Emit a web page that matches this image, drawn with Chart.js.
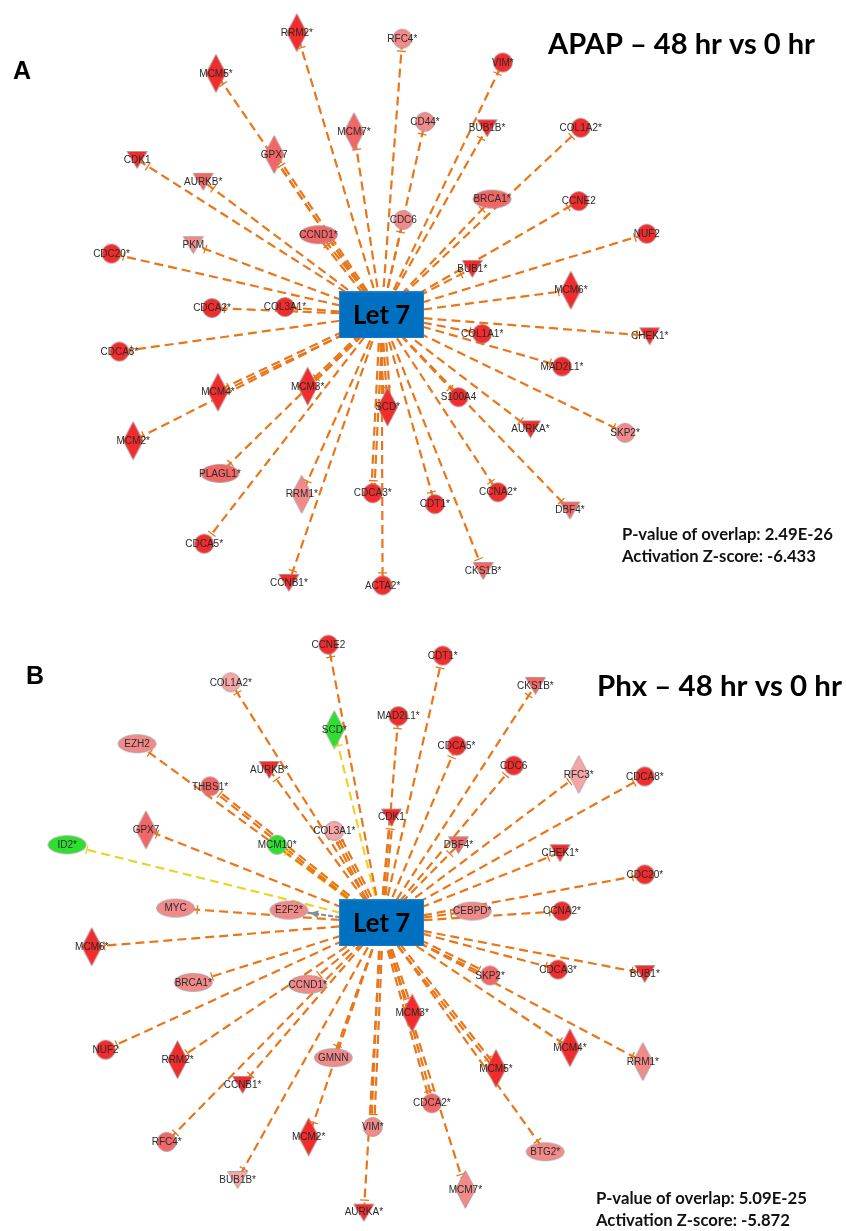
<!DOCTYPE html>
<html>
<head>
<meta charset="utf-8">
<script src="https://cdn.jsdelivr.net/npm/chart.js@4.4.1/dist/chart.umd.min.js"></script>
<style>
  html, body { margin: 0; padding: 0; background: #fff; }
  canvas { display: block; }
</style>
</head>
<body>
<canvas id="net" width="846" height="1231"></canvas>
<script>
// hub + panel text
const hubName = 'Let 7';
const panelLetters = ['A', 'B'];
const panelTitles = ['APAP \u2013 48 hr vs 0 hr', 'Phx \u2013 48 hr vs 0 hr'];
const pValues = ['2.49E-26', '5.09E-25'];
const zScores = ['-6.433', '-5.872'];
const hubA = [381, 312];
const hubB = [381, 926];

// node types: c = other, d = enzyme, t = kinase, e = transcription regulator
// level: 4 strong up ... 1 weak up, -1 down
const aGenes = ['RRM2*', 'RFC4*', 'MCM5*', 'VIM*', 'MCM7*', 'CD44*', 'BUB1B*', 'COL1A2*', 'GPX7', 'CDK1',
  'AURKB*', 'BRCA1*', 'CCNE2', 'CDC6', 'CCND1*', 'NUF2', 'PKM', 'CDC20*', 'BUB1*', 'MCM6*',
  'CDCA2*', 'COL3A1*', 'COL1A1*', 'CHEK1*', 'CDCA8*', 'MAD2L1*', 'MCM3*', 'MCM4*', 'S100A4', 'SCD*',
  'AURKA*', 'SKP2*', 'MCM2*', 'PLAGL1*', 'CCNA2*', 'CDCA3*', 'RRM1*', 'CDT1*', 'DBF4*', 'CDCA5*',
  'CKS1B*', 'CCNB1*', 'ACTA2*'];
const aX = [295, 402, 213, 504, 353, 425, 488, 583, 272, 133,
  200, 493, 581, 403, 317, 650, 190, 107, 473, 573,
  209, 283, 483, 653, 115, 564, 306, 215, 459, 387,
  532, 628, 129, 217, 499, 372, 300, 435, 572, 201,
  484, 287, 382];
const aY = [27, 33, 68, 57, 127, 117, 123, 123, 150, 155,
  177, 195, 197, 216, 231, 230, 241, 250, 265, 287,
  305, 304, 331, 333, 349, 364, 384, 390, 395, 405,
  427, 431, 439, 472, 491, 492, 493, 503, 509, 543,
  570, 582, 585];
const aType = ['d', 'c', 'd', 'c', 'd', 'c', 't', 'c', 'd', 't',
  't', 'e', 'c', 'c', 'e', 'c', 't', 'c', 't', 'd',
  'c', 'c', 'c', 't', 'c', 'c', 'd', 'd', 'c', 'd',
  't', 'c', 'd', 'e', 'c', 'c', 'd', 'c', 't', 'c',
  't', 't', 'c'];
const aLevel = [4, 2, 4, 4, 3, 2, 4, 4, 3, 4,
  3, 3, 4, 2, 3, 4, 2, 4, 4, 4,
  4, 4, 4, 4, 4, 4, 4, 4, 4, 4,
  4, 2, 4, 3, 4, 4, 2, 4, 3, 4,
  3, 4, 4];
const aLinks = [1, 1, 1, 1, 1, 1, 1, 1, 2, 1,
  1, 1, 1, 1, 2, 1, 1, 1, 1, 1,
  1, 1, 1, 1, 1, 1, 2, 2, 1, 3,
  1, 1, 1, 1, 1, 2, 1, 1, 1, 1,
  1, 1, 1];

const bGenes = ['CCNE2', 'CDT1*', 'COL1A2*', 'CKS1B*', 'MAD2L1*', 'SCD*', 'EZH2', 'CDCA5*', 'CDC6', 'AURKB*',
  'RFC3*', 'CDCA8*', 'THBS1*', 'CDK1', 'GPX7', 'COL3A1*', 'MCM10*', 'ID2*', 'DBF4*', 'CHEK1*',
  'CDC20*', 'MYC', 'E2F2*', 'CEBPD*', 'CCNA2*', 'MCM6*', 'CDCA3*', 'BUB1*', 'SKP2*', 'BRCA1*',
  'CCND1*', 'MCM3*', 'MCM4*', 'NUF2', 'GMNN', 'RRM2*', 'RRM1*', 'MCM5*', 'CCNB1*', 'CDCA2*',
  'VIM*', 'MCM2*', 'RFC4*', 'BTG2*', 'BUB1B*', 'MCM7*', 'AURKA*'];
const bX = [327, 443, 228, 537, 398, 333, 133, 457, 515, 267,
  581, 648, 207, 391, 142, 333, 275, 62, 459, 562,
  648, 172, 287, 473, 564, 87, 560, 648, 491, 190,
  306, 412, 572, 101, 332, 174, 646, 497, 240, 432,
  372, 307, 163, 547, 235, 466, 363];
const bY = [645, 656, 683, 686, 717, 731, 745, 747, 767, 771,
  776, 778, 788, 819, 832, 833, 847, 847, 847, 855,
  877, 911, 913, 914, 914, 950, 973, 977, 979, 986,
  988, 1017, 1052, 1054, 1062, 1064, 1066, 1073, 1089, 1108,
  1132, 1142, 1147, 1157, 1185, 1195, 1218];
const bType = ['c', 'c', 'c', 't', 'c', 'd', 'e', 'c', 'c', 't',
  'd', 'c', 'c', 't', 'd', 'c', 'c', 'e', 't', 't',
  'c', 'e', 'e', 'e', 'c', 'd', 'c', 't', 'c', 'e',
  'e', 'd', 'd', 'c', 'e', 'd', 'd', 'd', 't', 'c',
  'c', 'd', 'c', 'e', 't', 'd', 't'];
const bLevel = [4, 4, 1, 3, 4, -1, 2, 4, 4, 4,
  1, 4, 3, 4, 3, 1, -1, -1, 3, 4,
  4, 2, 2, 2, 4, 4, 4, 4, 3, 2,
  2, 4, 4, 4, 2, 4, 2, 4, 4, 3,
  2, 4, 3, 2, 1, 2, 4];
const bLinks = [1, 1, 1, 1, 1, 1, 1, 1, 1, 1,
  1, 1, 2, 2, 1, 3, 2, 1, 1, 1,
  1, 1, 1, 1, 1, 1, 1, 1, 2, 1,
  1, 2, 1, 1, 1, 1, 1, 2, 1, 2,
  2, 1, 1, 1, 1, 1, 1];
const bActivates = ['E2F2*'];

const TYPE_SIZE = { c: [9.5, 9.5], d: [10, 19], t: [10, 9], e: [19, 9] };
const SHADES = { 4: '#f22c2c', 3: '#f26666', 2: '#f38a8a', 1: '#f6a6a6', '-1': '#2ee02e' };
const ORANGE = '#e8761a';
const YELLOW = '#e8d42a';
const GREY = '#8c8c8c';

function nodeCanvas(type, level) {
  const [a, b] = TYPE_SIZE[type];
  const cv = document.createElement('canvas');
  cv.width = Math.ceil(a * 2 + 3);
  cv.height = Math.ceil(b * 2 + 3);
  const g = cv.getContext('2d');
  const cx = cv.width / 2, cy = cv.height / 2;
  g.beginPath();
  if (type === 'c') g.arc(cx, cy, a, 0, Math.PI * 2);
  else if (type === 'e') g.ellipse(cx, cy, a, b, 0, 0, Math.PI * 2);
  else if (type === 'd') {
    g.moveTo(cx, cy - b); g.lineTo(cx + a, cy); g.lineTo(cx, cy + b); g.lineTo(cx - a, cy); g.closePath();
  } else {
    g.moveTo(cx - a, cy - b + 1); g.lineTo(cx + a, cy - b + 1); g.lineTo(cx, cy + b); g.closePath();
  }
  g.fillStyle = SHADES[level];
  g.fill();
  g.strokeStyle = '#9a9a9a';
  g.lineWidth = 0.8;
  g.stroke();
  return cv;
}

function hubCanvas() {
  const cv = document.createElement('canvas');
  cv.width = 85; cv.height = 47;
  const g = cv.getContext('2d');
  g.fillStyle = '#0070c0';
  g.fillRect(0, 0, 85, 47);
  g.strokeStyle = '#2a80c8';
  g.strokeRect(0.5, 0.5, 84, 46);
  return cv;
}

const panels = [
  { hub: hubA, genes: aGenes, x: aX, y: aY, type: aType, level: aLevel, links: aLinks, activates: [] },
  { hub: hubB, genes: bGenes, x: bX, y: bY, type: bType, level: bLevel, links: bLinks, activates: bActivates },
];

// one dataset per relationship; parallel relationships are nudged sideways
const datasets = [];
const edgeInfo = [];
panels.forEach((p, pi) => {
  p.genes.forEach((g, i) => {
    const act = p.activates.includes(g);
    const color = act ? GREY : (p.level[i] < 0 ? YELLOW : ORANGE);
    const dx = p.x[i] - p.hub[0], dy = p.y[i] - p.hub[1];
    const len = Math.hypot(dx, dy);
    const n = p.links[i];
    for (let k = 0; k < n; k++) {
      const off = (k - (n - 1) / 2) * 3;
      const ox = -dy / len * off, oy = dx / len * off;
      datasets.push({
        type: 'line',
        data: [{ x: p.hub[0] + ox, y: p.hub[1] + oy }, { x: p.x[i] + ox, y: p.y[i] + oy }],
        borderColor: color,
        borderWidth: 2.2,
        borderDash: act ? [5, 2] : [9, 5],
        pointRadius: 0,
        fill: false,
        order: 2,
      });
    }
    edgeInfo.push({ panel: pi, idx: i, color, act });
  });
});
const hubImg = hubCanvas();
panels.forEach((p, pi) => {
  datasets.push({
    type: 'scatter',
    label: 'nodes' + pi,
    data: p.genes.map((g, i) => ({ x: p.x[i], y: p.y[i] })),
    pointStyle: p.genes.map((g, i) => nodeCanvas(p.type[i], p.level[i])),
    pointRadius: 5,
    order: 0,
  });
  datasets.push({
    type: 'scatter',
    label: 'hub' + pi,
    data: [{ x: p.hub[0], y: p.hub[1] }],
    pointStyle: hubImg,
    pointRadius: 5,
    order: 1,
  });
});

function fitSize(ctx, text, family, weight, width) {
  ctx.font = weight + ' 100px ' + family;
  return 100 * width / ctx.measureText(text).width;
}

const decor = {
  id: 'decor',
  afterDatasetsDraw(chart) {
    const ctx = chart.ctx;
    const sx = chart.scales.x, sy = chart.scales.y;
    ctx.save();

    // T-bars / arrowheads near targets
    edgeInfo.forEach(e => {
      const p = panels[e.panel];
      const hx = sx.getPixelForValue(p.hub[0]), hy = sy.getPixelForValue(p.hub[1]);
      const nx = sx.getPixelForValue(p.x[e.idx]), ny = sy.getPixelForValue(p.y[e.idx]);
      const len = Math.hypot(nx - hx, ny - hy);
      const ux = (nx - hx) / len, uy = (ny - hy) / len;
      const [a, b] = TYPE_SIZE[p.type[e.idx]];
      const t = p.type[e.idx];
      let dist;
      if (t === 'd') dist = 1 / (Math.abs(ux) / a + Math.abs(uy) / b);
      else dist = 1 / Math.sqrt((ux / a) ** 2 + (uy / b) ** 2);
      dist += 3;
      const px = nx - ux * dist, py = ny - uy * dist;
      ctx.strokeStyle = e.color;
      ctx.fillStyle = e.color;
      ctx.setLineDash([]);
      if (e.act) {
        ctx.beginPath();
        ctx.moveTo(px, py);
        ctx.lineTo(px - ux * 8 - uy * 4, py - uy * 8 + ux * 4);
        ctx.lineTo(px - ux * 8 + uy * 4, py - uy * 8 - ux * 4);
        ctx.closePath();
        ctx.fill();
      } else {
        ctx.lineWidth = 1.3;
        ctx.beginPath();
        ctx.moveTo(px - uy * 4.5, py + ux * 4.5);
        ctx.lineTo(px + uy * 4.5, py - ux * 4.5);
        ctx.stroke();
      }
    });

    // node labels
    ctx.fillStyle = '#2b2b2b';
    ctx.font = '10px "Liberation Sans", Arial, sans-serif';
    ctx.textAlign = 'center';
    ctx.textBaseline = 'middle';
    chart.data.datasets.forEach((ds, di) => {
      if (!ds.label || !ds.label.startsWith('nodes')) return;
      const p = panels[+ds.label.slice(5)];
      chart.getDatasetMeta(di).data.forEach((el, i) => {
        ctx.fillText(p.genes[i], el.x, el.y + 0.5);
      });
    });

    // hub text
    const fam = 'Lato, "Open Sans", sans-serif';
    panels.forEach(p => {
      const hx = sx.getPixelForValue(p.hub[0]), hy = sy.getPixelForValue(p.hub[1]);
      const s = fitSize(ctx, hubName, fam, 'bold', 57);
      ctx.font = 'bold ' + s + 'px ' + fam;
      ctx.fillStyle = '#000';
      ctx.textAlign = 'center';
      ctx.textBaseline = 'middle';
      ctx.fillText(hubName, hx, hy + 1);
    });

    // panel letters
    ctx.font = 'bold 25px "Liberation Sans", Arial, sans-serif';
    ctx.textAlign = 'center';
    ctx.textBaseline = 'middle';
    ctx.fillText(panelLetters[0], 22, 72);
    ctx.fillText(panelLetters[1], 35, 677);

    // titles
    ctx.textAlign = 'left';
    const titlePos = [[548, 45, 267], [597, 686, 245]];
    panelTitles.forEach((t, i) => {
      const [x, y, w] = titlePos[i];
      const s = fitSize(ctx, t, fam, 'bold', w);
      ctx.font = 'bold ' + s + 'px ' + fam;
      ctx.fillText(t, x, y);
    });

    // stats
    const statPos = [[622, 535], [596, 1199]];
    statPos.forEach(([x, y], i) => {
      const l1 = 'P-value of overlap: ' + pValues[i];
      const l2 = 'Activation Z-score: ' + zScores[i];
      const s = fitSize(ctx, l1, fam, 'bold', 211);
      ctx.font = 'bold ' + s + 'px ' + fam;
      ctx.fillStyle = '#111';
      ctx.fillText(l1, x, y);
      ctx.fillText(l2, x, y + 22);
    });
    ctx.restore();
  }
};

new Chart(document.getElementById('net'), {
  type: 'scatter',
  data: { datasets },
  options: {
    responsive: false,
    animation: false,
    devicePixelRatio: 1,
    events: [],
    layout: { padding: 0 },
    scales: {
      x: { type: 'linear', min: 0, max: 846, display: false },
      y: { type: 'linear', min: 0, max: 1231, reverse: true, display: false },
    },
    plugins: { legend: { display: false }, tooltip: { enabled: false } },
  },
  plugins: [decor],
});
</script>
</body>
</html>
